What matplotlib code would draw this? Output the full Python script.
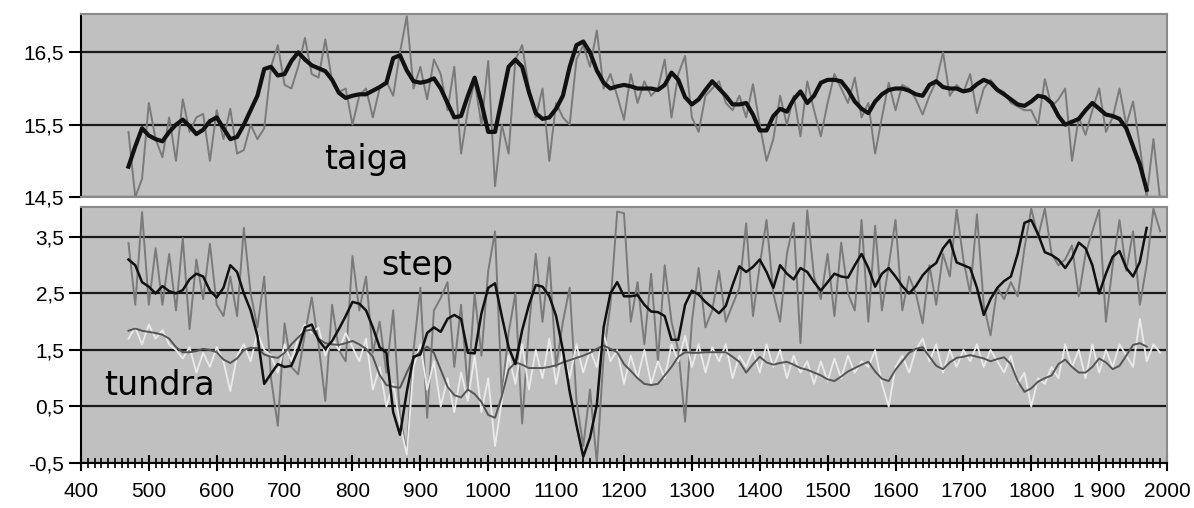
import numpy as np
import matplotlib
matplotlib.use("Agg")
import matplotlib.pyplot as plt
from matplotlib.ticker import MultipleLocator

nan = np.nan
years = np.arange(470, 2000, 10)

taiga_raw = [
    15.4, 14.5, 14.75, 15.8, 15.3, 15.05, 15.6, 15.0, 15.85, 15.4,
    15.6, 15.65, 15.0, 15.7, 15.3, 15.72, 15.1, 15.15, 15.5, 15.3,
    15.45, 16.3, 16.6, 16.05, 16.0, 16.3, 16.7, 16.2, 16.15, 16.68,
    16.1, 15.95, 16.0, 15.5, 15.9, 16.0, 15.6, 16.0, 16.1, 15.9,
    16.5, 17.0, 16.0, 16.3, 15.85, 16.4, 16.2, 15.7, 16.3, 15.1,
    15.7, 16.1, 15.5, 16.38, 14.65, 15.5, 15.1, 16.4, 16.6, 16.0,
    15.6, 16.0, 15.0, 15.8, 15.6, 15.5, 16.4, 16.6, 16.3, 16.8,
    16.0, 16.2, 15.9, 15.57, 16.2, 15.8, 16.1, 15.9, 16.0, 16.4,
    15.6, 16.2, 16.45, 15.6, 15.4, 15.9, 16.0, 16.1, 15.8, 15.7,
    15.9, 15.6, 16.06, 15.5, 15.0, 15.3, 15.9, 15.5, 15.9, 15.34,
    16.1, 15.7, 15.34, 15.8, 16.2, 16.0, 15.8, 16.15, 15.6, 15.8,
    15.1, 15.6, 16.08, 15.7, 16.05, 16.0, 15.85, 15.64, 15.9, 16.1,
    16.5, 15.9, 16.05, 15.95, 16.2, 15.66, 16.0, 16.12, 16.0, 15.95,
    15.8, 15.75, 15.7, 15.7, 15.5, 16.13, 15.75, 15.85, 16.0, 15.0,
    15.6, 15.36, 15.7, 16.0, 15.4, 15.6, 16.0, 15.5, 15.82, 15.2,
    14.5, 15.3, 14.45,
]
taiga_smooth = [
    14.92, 15.2, 15.45, 15.35, 15.3, 15.27, 15.4, 15.5, 15.57, 15.48,
    15.37, 15.43, 15.55, 15.6, 15.45, 15.3, 15.33, 15.5, 15.7, 15.9,
    16.27, 16.3, 16.18, 16.2, 16.38, 16.5, 16.4, 16.32, 16.28, 16.24,
    16.12, 15.94, 15.87, 15.9, 15.92, 15.92, 15.97, 16.02, 16.08, 16.42,
    16.46, 16.25, 16.1, 16.08, 16.1, 16.14, 16.0, 15.8, 15.6, 15.62,
    15.9, 16.15, 15.8, 15.4, 15.4, 15.85, 16.3, 16.4, 16.3, 15.95,
    15.66, 15.58, 15.6, 15.72, 15.9, 16.3, 16.6, 16.65, 16.5, 16.25,
    16.08, 16.0, 16.03, 16.05, 16.03, 16.0, 16.0, 16.0, 15.98, 16.05,
    16.22, 16.12, 15.88, 15.78, 15.85, 15.98, 16.1, 16.0, 15.9, 15.78,
    15.78, 15.8, 15.64, 15.42, 15.42, 15.62, 15.72, 15.68, 15.85, 15.96,
    15.8, 15.9, 16.08, 16.12, 16.12, 16.1, 15.98, 15.82, 15.72, 15.66,
    15.82, 15.92, 15.98, 16.0, 16.0, 15.97, 15.92, 15.9, 16.05, 16.1,
    16.02, 16.0, 16.0, 15.96, 15.98, 16.06, 16.12, 16.08, 15.98, 15.92,
    15.85, 15.78, 15.76, 15.82, 15.9, 15.88, 15.8, 15.62, 15.5, 15.54,
    15.58, 15.7, 15.8, 15.72, 15.64, 15.62, 15.58, 15.45, 15.2, 14.95,
    14.6, nan, nan,
]

step_raw = [
    3.39, 2.3, 3.94, 2.3, 3.3, 2.3, 3.2, 2.2, 3.48, 1.87,
    3.1, 2.4, 3.38, 2.3, 2.1, 2.8, 2.1, 3.66, 2.5, 1.9,
    2.8, 1.0, 0.16, 1.97, 1.2, 1.07, 1.8, 2.43, 1.6, 0.6,
    2.3, 1.5, 1.3, 3.16, 2.2, 2.8, 1.45, 2.0, 1.1, 2.2,
    0.3, -0.3, 1.5, 2.6, 0.3, 2.2, 2.42, 2.7, 1.2, 2.3,
    0.8, 2.5, 1.4, 2.9, 3.6, 0.72, 1.8, 2.5, 0.2, 1.9,
    3.2, 2.0, 3.14, 1.2, 2.0, 2.6, 0.6, -0.2, 0.8, -0.5,
    1.4, 2.3, 3.95, 3.92, 2.0, 2.7, 1.6, 2.85, 1.3, 3.0,
    2.0, 1.5, 0.23, 2.0, 2.95, 1.9, 2.2, 2.9, 2.0, 2.3,
    2.6, 3.74, 2.1, 3.0, 3.8, 2.5, 2.0, 3.2, 3.75, 1.62,
    3.97, 2.8, 2.4, 3.2, 2.1, 3.4, 2.5, 2.2, 3.8, 2.0,
    3.7, 2.2, 3.0, 3.8, 2.2, 2.8, 2.5, 1.97, 3.0, 2.3,
    3.2, 2.8, 3.98, 3.1, 2.5, 3.9, 2.3, 1.76, 2.6, 2.4,
    2.7, 2.45, 3.3, 4.0, 3.5, 4.0, 3.2, 3.0, 3.1, 3.35,
    2.45, 3.2, 3.6, 3.98, 2.0, 3.0, 3.8, 2.9, 3.6, 2.3,
    3.0, 4.0, 3.6,
]
step_smooth = [
    3.1, 3.0, 2.7, 2.62, 2.5, 2.63, 2.54, 2.5, 2.56, 2.75,
    2.85, 2.8, 2.55, 2.43, 2.6, 3.0, 2.88, 2.5, 2.2, 1.75,
    0.9, 1.08, 1.25, 1.2, 1.22, 1.5, 1.9, 1.95, 1.68, 1.52,
    1.66, 1.87, 2.1, 2.35, 2.32, 2.2, 1.9, 1.55, 1.45, 0.4,
    0.0, 0.76, 1.38, 1.42, 1.8, 1.9, 1.82, 2.05, 2.12, 2.05,
    1.45, 1.44, 2.15, 2.6, 2.68, 2.1, 1.55, 1.25, 1.85, 2.3,
    2.65, 2.62, 2.45, 2.1, 1.5, 0.76, 0.17, -0.39, -0.05, 0.53,
    1.9, 2.5, 2.7, 2.45, 2.45, 2.47, 2.3, 2.18, 2.17, 2.1,
    1.68, 1.68, 2.3, 2.55, 2.48, 2.35, 2.25, 2.15, 2.28, 2.65,
    2.98, 2.88, 2.97, 3.1, 2.88, 2.6, 3.0, 2.85, 2.75, 2.95,
    2.88, 2.7, 2.55, 2.7, 2.85, 2.8, 2.78, 3.0, 3.2, 2.95,
    2.62, 2.85, 2.95, 2.8, 2.63, 2.5, 2.63, 2.82, 2.95, 3.04,
    3.3, 3.45, 3.05, 3.0, 2.95, 2.6, 2.12, 2.4, 2.6, 2.72,
    2.8, 3.2, 3.75, 3.8, 3.55, 3.23, 3.18, 3.1, 2.95, 3.13,
    3.4, 3.3, 3.0, 2.5, 2.85, 3.15, 3.25, 2.95, 2.8, 3.06,
    3.66, nan, nan,
]

tundra_raw = [
    1.7, 1.9, 1.6, 1.95, 1.7, 1.85, 1.6, 1.5, 1.35, 1.55,
    1.1, 1.45, 1.2, 1.55, 1.3, 0.77, 1.4, 1.6, 1.3, 1.8,
    1.5, 1.4, 1.1, 1.6, 1.3, 1.7, 1.95, 1.8, 1.9, 1.4,
    1.7, 1.5, 1.8, 1.55, 1.3, 1.7, 0.8, 1.2, 0.5, 0.9,
    0.2, -0.35, 1.2, 1.6, 0.8, 1.3, 0.5, 1.0, 0.4, 1.1,
    0.6, 1.4, 0.4, 1.0, -0.2, 0.6, 1.4, 0.9, 1.6, 0.8,
    1.5, 1.0, 1.7, 0.9, 1.5, 1.0, 1.6, 1.1, 1.5, 1.2,
    1.8, 1.3, 1.5, 0.9, 1.4, 1.0, 1.5, 0.9, 1.3, 1.0,
    1.6, 1.3, 1.75, 1.2, 1.6, 1.1, 1.55, 1.3, 1.6, 1.0,
    1.4, 1.2, 1.5, 1.1, 1.6, 1.2, 1.5, 1.0, 1.4, 1.1,
    1.3, 0.9, 1.3, 0.95, 1.35, 1.0, 1.4, 1.1, 1.3, 1.2,
    1.5, 0.9, 0.5, 1.2, 1.4, 1.1, 1.5, 1.7, 1.3, 1.6,
    1.1, 1.5, 1.2, 1.5, 1.3, 1.6, 1.2, 1.5, 1.3, 1.1,
    1.4, 0.9, 1.1, 0.5, 1.0, 0.9, 1.2, 1.0, 1.6, 1.2,
    1.5, 1.0, 1.6, 1.1, 1.5, 1.2, 1.6, 1.4, 1.2, 2.05,
    1.3, 1.6, 1.45,
]
tundra_smooth = [
    1.84, 1.88, 1.84, 1.82, 1.8, 1.77, 1.7, 1.55, 1.46, 1.46,
    1.48, 1.52, 1.5, 1.46, 1.33, 1.27, 1.35, 1.5, 1.54, 1.53,
    1.42, 1.38, 1.36, 1.45, 1.6, 1.72, 1.84, 1.86, 1.7, 1.62,
    1.6, 1.59, 1.62, 1.66, 1.6, 1.52, 1.38, 1.06, 0.88, 0.85,
    0.83, 1.1, 1.35, 1.47, 1.56, 1.45, 1.15, 0.85, 0.7, 0.66,
    0.8, 0.72, 0.58, 0.35, 0.3, 0.68, 1.15, 1.28, 1.24, 1.18,
    1.18, 1.18, 1.2, 1.23, 1.28, 1.32, 1.36, 1.4, 1.45, 1.52,
    1.58, 1.52, 1.46, 1.25, 1.13, 1.0, 0.9, 0.88, 0.9, 1.05,
    1.2, 1.38, 1.46, 1.45, 1.45, 1.46, 1.46, 1.46, 1.46, 1.38,
    1.29, 1.1, 1.25, 1.38, 1.28, 1.24, 1.27, 1.29, 1.24, 1.18,
    1.15, 1.1, 1.05, 0.98, 0.95, 1.03, 1.12, 1.18, 1.24, 1.29,
    1.12, 0.99, 0.95, 1.15, 1.3, 1.45, 1.52, 1.55, 1.38, 1.22,
    1.16, 1.28, 1.36, 1.38, 1.41, 1.38, 1.35, 1.3, 1.34, 1.37,
    1.25, 0.95, 0.76, 0.82, 0.94, 1.0, 1.05, 1.25, 1.33, 1.2,
    1.1, 1.1, 1.2, 1.35, 1.28, 1.16, 1.22, 1.4, 1.59, 1.62,
    1.56, nan, nan,
]

top_ticks = [14.5, 15.5, 16.5]
top_labels = ["14,5", "15,5", "16,5"]
bot_ticks = [-0.5, 0.5, 1.5, 2.5, 3.5]
bot_labels = ["-0,5", "0,5", "1,5", "2,5", "3,5"]
x_ticks = list(range(400, 2001, 100))
x_labels = [str(v) for v in x_ticks]
x_labels[x_labels.index("1900")] = "1 900"

bg = "#c0c0c0"
fig = plt.figure(figsize=(11.94, 5.08), dpi=100)
ax1 = fig.add_axes([0.0678, 0.6122, 0.9096, 0.3602])
ax2 = fig.add_axes([0.0678, 0.0886, 0.9096, 0.5039])

for ax in (ax1, ax2):
    ax.set_facecolor(bg)
    ax.set_xlim(400, 2000)
    for s in ("top", "right"):
        ax.spines[s].set_color("#8a8a8a")
        ax.spines[s].set_linewidth(1.5)
    ax.spines["left"].set_color("black")
    ax.spines["left"].set_linewidth(1.5)
    ax.tick_params(axis="y", length=9, width=1.5, pad=3)
    ax.yaxis.grid(True, color="#1a1a1a", linewidth=1.6)
    ax.set_axisbelow(True)

# taiga
ax1.plot(years, taiga_raw, color="#7a7a7a", linewidth=1.4)
ax1.plot(years, taiga_smooth, color="#111111", linewidth=3.0)
ax1.set_ylim(14.5, 17.03)
ax1.set_yticks(top_ticks)
ax1.set_yticklabels(top_labels, fontfamily="Liberation Sans", fontsize=15)
ax1.spines["bottom"].set_color("#8a8a8a")
ax1.spines["bottom"].set_linewidth(1.5)
ax1.tick_params(axis="x", bottom=False, labelbottom=False)
ax1.text(821, 15.02, "taiga", fontsize=24, ha="center", va="center")

# step + tundra
ax2.plot(years, step_raw, color="#7a7a7a", linewidth=1.4)
ax2.plot(years, tundra_raw, color="#eaeaea", linewidth=1.3)
ax2.plot(years, tundra_smooth, color="#555555", linewidth=1.4)
ax2.plot(years, step_smooth, color="#111111", linewidth=1.8)
ax2.set_ylim(-0.5, 4.03)
ax2.set_yticks(bot_ticks)
ax2.set_yticklabels(bot_labels, fontfamily="Liberation Sans", fontsize=15)
ax2.spines["bottom"].set_color("black")
ax2.spines["bottom"].set_linewidth(1.5)
ax2.set_xticks(x_ticks)
ax2.set_xticklabels(x_labels, fontfamily="Liberation Sans", fontsize=15)
ax2.xaxis.set_minor_locator(MultipleLocator(10))
ax2.tick_params(axis="x", which="major", direction="inout", length=12, width=1.5, pad=8)
ax2.tick_params(axis="x", which="minor", direction="inout", length=7, width=1.2)
ax2.text(895, 3.0, "step", fontsize=24, ha="center", va="center")
ax2.text(516, 0.88, "tundra", fontsize=24, ha="center", va="center")

fig.savefig("out.png", dpi=100)
